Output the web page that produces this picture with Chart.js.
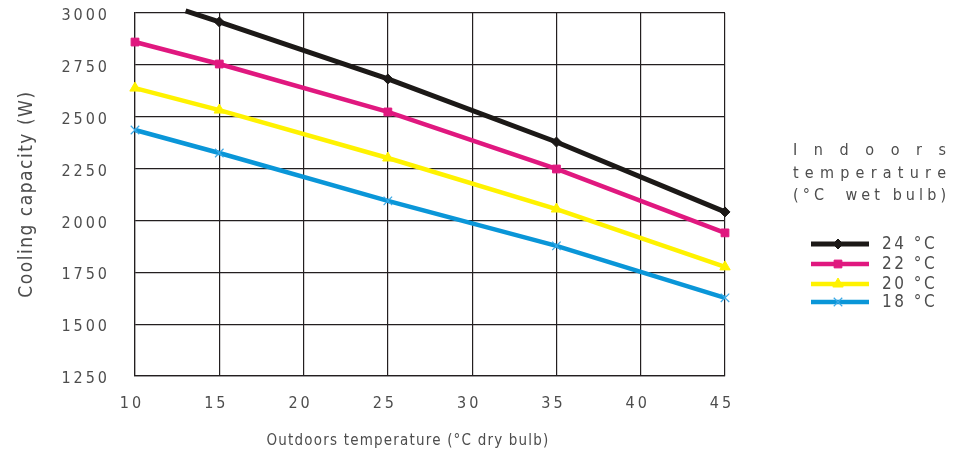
<!DOCTYPE html>
<html>
<head>
<meta charset="utf-8">
<script src="https://cdn.jsdelivr.net/npm/chart.js@4/dist/chart.umd.min.js"></script>
<style>
  html, body { margin: 0; padding: 0; background: #ffffff; }
  #wrap { width: 963px; height: 461px; position: relative; }
</style>
</head>
<body>
<div id="wrap"><canvas id="c" width="963" height="461"></canvas></div>
<script>
// ---- data ----
const xValues = [10, 15, 25, 35, 45];
const xValues24 = [13, 15, 25, 35, 45];
const series24 = [3010, 2957, 2682, 2378, 2041];
const series22 = [2860, 2754, 2523, 2248, 1940];
const series20 = [2638, 2532, 2301, 2055, 1776];
const series18 = [2436, 2325, 2094, 1877, 1627];
const seriesLabels = ['24 °C', '22 °C', '20 °C', '18 °C'];
const legendTitle = ['Indoors', 'temperature', '(°C  wet bulb)'];
const xAxisTitle = 'Outdoors temperature (°C dry bulb)';
const yAxisTitle = 'Cooling capacity (W)';
const xTickRange = [10, 45, 5];
const yTickRange = [1250, 3000, 250];

const FONT = "'Liberation Sans Narrow', 'DejaVu Sans Condensed', 'Liberation Sans', sans-serif";
const TEXT = '#4d4d4d';
const GRID = '#231f20';

function pts(xs, vals) { return xs.map((x, i) => ({ x: x, y: vals[i] })); }

const styles = [
  { color: '#1c1917', point: 'rectRot', radius: 5, width: 5, pColor: '#1c1917' },
  { color: '#e0187f', point: 'rect', radius: 5.5, width: 4.5, pColor: '#e0187f' },
  { color: '#fff200', point: 'triangle', radius: 6, width: 4.5, pColor: '#fff200' },
  { color: '#0a96d8', point: 'crossRot', radius: 6, width: 4.5, pColor: '#3aa8e6' }
];
const allSeries = [pts(xValues24, series24), pts(xValues, series22), pts(xValues, series20), pts(xValues, series18)];

const datasets = allSeries.map((s, i) => ({
  label: seriesLabels[i],
  data: s,
  borderColor: styles[i].color,
  backgroundColor: styles[i].pColor,
  borderWidth: styles[i].width,
  pointStyle: styles[i].point,
  pointRadius: i === 0 ? [0, 5, 5, 5, 5] : styles[i].radius,
  pointBorderWidth: styles[i].point === 'crossRot' ? 1.2 : 1,
  pointBorderColor: styles[i].pColor,
  pointBackgroundColor: styles[i].pColor,
  borderCapStyle: 'butt',
  tension: 0,
  clip: { left: 12, right: 12, top: 8, bottom: 12 }
}));

const spacingPlugin = {
  id: 'spacing',
  beforeUpdate(chart) { chart.ctx.letterSpacing = '3px'; },
  beforeLayout(chart) { chart.ctx.letterSpacing = '3px'; },
  beforeDraw(chart) { chart.ctx.letterSpacing = '3px'; }
};

function justify(ctx, text, left, right, y) {
  const chars = Array.from(text);
  const widths = chars.map(c => ctx.measureText(c).width);
  const total = widths.reduce((a, b) => a + b, 0);
  const gap = chars.length > 1 ? (right - left - total) / (chars.length - 1) : 0;
  let x = left;
  chars.forEach((c, i) => { ctx.fillText(c, x, y); x += widths[i] + gap; });
}

const textPlugin = {
  id: 'texts',
  afterDraw(chart) {
    const ctx = chart.ctx;
    ctx.save();
    ctx.fillStyle = TEXT;
    ctx.textBaseline = 'middle';
    // y title
    ctx.save();
    ctx.letterSpacing = '1.5px';
    ctx.font = '19px ' + FONT;
    ctx.translate(27, 194);
    ctx.rotate(-Math.PI / 2);
    ctx.textAlign = 'center';
    ctx.fillText(yAxisTitle, 0, 0);
    ctx.restore();
    // x title
    ctx.save();
    ctx.letterSpacing = '1.2px';
    ctx.font = '15px ' + FONT;
    ctx.textAlign = 'center';
    ctx.fillText(xAxisTitle, 408, 441);
    ctx.restore();
    // legend title (justified)
    ctx.save();
    ctx.letterSpacing = '0px';
    ctx.font = '16px ' + FONT;
    ctx.textAlign = 'left';
    legendTitle.forEach((t, i) => justify(ctx, t, 793, 946, 151 + i * 22.5));
    ctx.restore();
    // legend items
    const ys = [244, 264, 284, 302];
    chart.data.datasets.forEach((ds, i) => {
      ctx.save();
      ctx.strokeStyle = ds.borderColor;
      ctx.lineWidth = ds.borderWidth;
      ctx.beginPath();
      ctx.moveTo(811, ys[i]);
      ctx.lineTo(869, ys[i]);
      ctx.stroke();
      ctx.fillStyle = ds.pointBackgroundColor;
      ctx.strokeStyle = ds.pointBorderColor;
      ctx.lineWidth = ds.pointBorderWidth;
      Chart.helpers.drawPoint(ctx, { pointStyle: ds.pointStyle, radius: styles[i].radius, rotation: 0, borderWidth: ds.pointBorderWidth }, 838, ys[i]);
      ctx.restore();
      ctx.save();
      ctx.fillStyle = TEXT;
      ctx.letterSpacing = '2.5px';
      ctx.font = '17px ' + FONT;
      ctx.textAlign = 'left';
      ctx.textBaseline = 'middle';
      ctx.fillText(ds.label, 882, ys[i] + 1);
      ctx.restore();
    });
    ctx.restore();
  }
};

new Chart(document.getElementById('c'), {
  type: 'line',
  data: { datasets: datasets },
  options: {
    responsive: false,
    animation: false,
    events: [],
    layout: { padding: { left: 0, right: 238, top: 13, bottom: 0 } },
    plugins: { legend: { display: false }, tooltip: { enabled: false }, title: { display: false } },
    scales: {
      x: {
        type: 'linear',
        min: xTickRange[0], max: xTickRange[1],
        ticks: { stepSize: xTickRange[2], color: TEXT, font: { family: FONT, size: 16 }, padding: 18, labelOffset: -3, maxRotation: 0, callback: v => String(v) },
        grid: { color: GRID, lineWidth: 1.2, drawTicks: false },
        border: { color: GRID, width: 1.2 },
        afterFit(scale) { scale.height = 85; scale.paddingLeft = 0; scale.paddingRight = 0; }
      },
      y: {
        type: 'linear',
        min: yTickRange[0], max: yTickRange[1],
        ticks: { stepSize: yTickRange[2], color: TEXT, font: { family: FONT, size: 16 }, padding: 25, labelOffset: 3, callback: v => String(v) },
        grid: { color: GRID, lineWidth: 1.2, drawTicks: false },
        border: { color: GRID, width: 1.2 },
        afterFit(scale) { scale.width = 135; scale.paddingTop = 0; scale.paddingBottom = 0; }
      }
    }
  },
  plugins: [spacingPlugin, textPlugin]
});
</script>
</body>
</html>
